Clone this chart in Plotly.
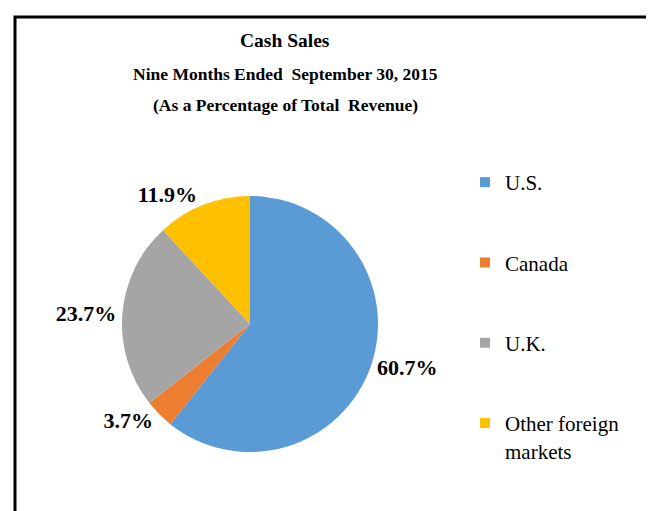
import plotly.graph_objects as go

# ---- data ----
regions = ["U.S.", "Canada", "U.K.", "Other foreign markets"]
legend_labels = ["U.S.", "Canada", "U.K.", "Other foreign<br>markets"]
shares = [60.7, 3.7, 23.7, 11.9]
colors = ["#5B9BD5", "#ED7D31", "#A5A5A5", "#FFC000"]

W, H = 654, 511
SERIF = "Liberation Serif, Times New Roman, serif"

fig = go.Figure()

R = 128
cx, cy = 242, 316
fig.add_trace(go.Pie(
    labels=regions,
    values=shares,
    sort=False,
    direction="clockwise",
    rotation=0,
    marker=dict(colors=colors, line=dict(width=0)),
    texttemplate="<b>%{value:.1f}%</b>",
    textposition="outside",
    textfont=dict(family=SERIF, size=22, color="black"),
    showlegend=False,
    domain=dict(x=[(cx - R) / W, (cx + R) / W],
                y=[1 - (cy + R) / H, 1 - (cy - R) / H]),
    hoverinfo="label+percent",
))

for name, lab, col in zip(regions, legend_labels, colors):
    fig.add_trace(go.Scatter(
        x=[None], y=[None], mode="markers", name=lab,
        legendgroup=name,
        marker=dict(symbol="square", size=10, color=col),
    ))

TX = 277 / W
fig.add_annotation(text="<b>Cash Sales</b>", x=TX, y=1 - 33 / H,
                   xref="paper", yref="paper", showarrow=False,
                   yanchor="middle",
                   font=dict(family=SERIF, size=19.5, color="black"))
fig.add_annotation(text="<b>Nine Months Ended  September 30, 2015</b>",
                   x=TX, y=1 - 66 / H, xref="paper", yref="paper",
                   showarrow=False, yanchor="middle",
                   font=dict(family=SERIF, size=17.5, color="black"))
fig.add_annotation(text="<b>(As a Percentage of Total  Revenue)</b>",
                   x=TX, y=1 - 97 / H, xref="paper", yref="paper",
                   showarrow=False, yanchor="middle",
                   font=dict(family=SERIF, size=17.5, color="black"))

# frame
fig.add_shape(type="rect", xref="paper", yref="paper",
              x0=7 / W, x1=1.05, y0=-0.05, y1=1 - 9 / H,
              line=dict(color="black", width=3))

fig.update_layout(
    width=W, height=H,
    margin=dict(l=0, r=0, t=0, b=0),
    paper_bgcolor="white", plot_bgcolor="white",
    xaxis=dict(visible=False), yaxis=dict(visible=False),
    legend=dict(x=457 / W, y=1 - 154 / H, xanchor="left", yanchor="top",
                font=dict(family=SERIF, size=21, color="black"),
                tracegroupgap=50, valign="top", itemwidth=30,
                bgcolor="rgba(0,0,0,0)"),
)

fig.write_html("out.html")
